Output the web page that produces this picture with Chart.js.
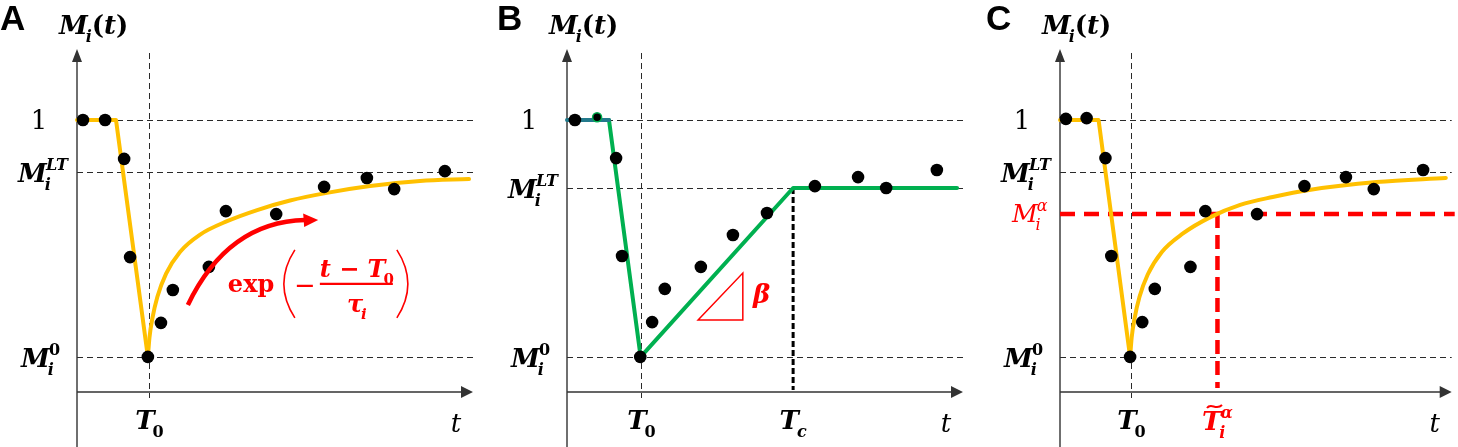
<!DOCTYPE html>
<html>
<head>
<meta charset="utf-8">
<script src="https://cdn.jsdelivr.net/npm/chart.js@4.4.1/dist/chart.umd.min.js"></script>
<style>
  body { margin: 0; background: #fff; width: 1458px; height: 447px; overflow: hidden; }
  canvas { position: absolute; top: 0; }
</style>
</head>
<body>
<canvas id="panel-a" width="490" height="447" style="left:0"></canvas>
<canvas id="panel-b" width="490" height="447" style="left:490px"></canvas>
<canvas id="panel-c" width="478" height="447" style="left:980px"></canvas>
<script>
// values: t in 0..100, M on a 0..1.25 axis (x axis at 0)

// panel A - exponential recovery
const obsA_t = [1.5, 7.1, 11.9, 13.4, 17.9, 21.2, 24.2, 33.3, 37.6, 50.3, 62.4, 73.2, 80.1, 92.9];
const obsA_m = [1.00, 1.00, 0.857, 0.496, 0.129, 0.254, 0.375, 0.46, 0.665, 0.654, 0.754, 0.787, 0.746, 0.812];
const dropA_t = [0, 9.85, 17.9];
const dropA_m = [1, 1, 0.129];
const riseA_t = [17.9, 18.3, 19.0, 20.3, 22.5, 26.0, 31.0, 37.9, 45.5, 53.8, 63.1, 74.0, 86.6, 99.0];
const riseA_m = [0.129, 0.200, 0.268, 0.350, 0.435, 0.515, 0.578, 0.628, 0.669, 0.704, 0.732, 0.757, 0.776, 0.783];
const refA = { T0: 18.2, mOne: 1, mLT: 0.809, m0: 0.129 };
const arrowA_t = [28.0, 38.1, 57.6, 60.9];   // start, control, end, tip
const arrowA_m = [0.320, 0.625, 0.632, 0.632];
const expLabelA = [38.6, 0.368];

// panel B - linear recovery
const obsB_t = [2.0, 7.6, 12.4, 13.9, 18.5, 21.5, 24.7, 33.8, 41.9, 50.5, 62.6, 73.5, 80.6, 93.4];
const obsB_m = [1.0, 1.01, 0.860, 0.500, 0.129, 0.257, 0.379, 0.460, 0.577, 0.658, 0.757, 0.790, 0.750, 0.816];
const flatB_t = [0, 10.6];
const flatB_m = [1, 1];
const fitB_t = [10.6, 18.6, 57.1, 98.5];
const fitB_m = [1, 0.129, 0.75, 0.75];
const refB = { T0: 18.7, Tc: 57.1, mOne: 1, mLT: 0.75, m0: 0.129 };
const slopeB_t = [33.1, 44.4, 44.4];
const slopeB_m = [0.265, 0.265, 0.4375];
const betaLabelB = [47.0, 0.327];

// panel C - alpha threshold
const obsC_t = [1.5, 6.8, 11.6, 13.1, 17.9, 21.0, 24.2, 33.3, 37.1, 50.3, 62.4, 73.0, 80.1, 92.7];
const obsC_m = [1.004, 1.007, 0.860, 0.500, 0.129, 0.257, 0.379, 0.460, 0.665, 0.654, 0.757, 0.790, 0.746, 0.816];
const dropC_t = [0, 9.85, 17.9];
const dropC_m = [1, 1, 0.129];
const riseC_t = [17.9, 18.3, 19.0, 20.3, 22.4, 26.0, 31.3, 38.4, 46.0, 54.3, 63.6, 80.8, 98.5];
const riseC_m = [0.129, 0.200, 0.268, 0.350, 0.432, 0.515, 0.582, 0.643, 0.688, 0.717, 0.743, 0.772, 0.787];
const refC = { T0: 18.2, mOne: 1, mLT: 0.809, m0: 0.129, mAlpha: 0.654, tAlpha: 40.2 };

const GOLD = '#FFC000', GREEN = '#00B050', TEAL = '#237A8C', RED = '#FF0000', AXIS = '#333', GRID = '#2a2a2a';

function pts(ts, ms) {
    return ts.map((t, i) => ({ x: t, y: ms[i] }));
}

function dots(ts, ms) {
    return { data: pts(ts, ms), showLine: false, pointRadius: 6.3, pointBackgroundColor: '#000', pointBorderWidth: 0, clip: false };
}

function line(ts, ms, color, smooth) {
    const ds = { data: pts(ts, ms), showLine: true, pointRadius: 0, borderColor: color, borderWidth: 4, tension: 0, clip: false, borderCapStyle: 'round', borderJoinStyle: 'round' };
    if (smooth) ds.cubicInterpolationMode = 'monotone';
    return ds;
}

// math style label: parts = [text, pos, font]; pos '' | 'sub' | 'sup' | 'sup2' (sup over previous sub)
function drawMath(ctx, x, y, parts, size, color, align) {
    const small = Math.round(size * 0.62);
    let w = 0, lastX = 0;
    const items = parts.map(([s, pos, f]) => {
        const fs = pos ? small : size;
        const font = (f || 'bold italic') + ' ' + fs + 'px "DejaVu Serif"';
        ctx.font = font;
        const mw = ctx.measureText(s).width;
        let ix;
        if (pos === 'sup2') { ix = lastX + size * 0.05; w = Math.max(w, ix + mw); }
        else if (pos === 'sub') { ix = w - size * 0.08; lastX = ix; w = ix + mw; }
        else { ix = w; lastX = w; w += mw; }
        const dy = pos === 'sub' ? size * 0.3 : (pos ? -size * 0.45 : 0);
        return { s, font, ix, dy };
    });
    const x0 = align === 'center' ? x - w / 2 : align === 'right' ? x - w : x;
    ctx.fillStyle = color;
    ctx.textAlign = 'left';
    ctx.textBaseline = 'alphabetic';
    items.forEach(it => { ctx.font = it.font; ctx.fillText(it.s, x0 + it.ix, y + it.dy); });
    return { x0, w };
}

function dashed(ctx, x1, y1, x2, y2, color, width, dash) {
    ctx.save();
    ctx.strokeStyle = color;
    ctx.lineWidth = width;
    ctx.setLineDash(dash);
    ctx.beginPath();
    ctx.moveTo(x1, y1);
    ctx.lineTo(x2, y2);
    ctx.stroke();
    ctx.restore();
}

function drawFrame(chart, cfg) {
    const { ctx, chartArea: a, scales: { x, y } } = chart;
    const left = a.left, base = y.getPixelForValue(0), right = a.right;
    ctx.save();
    // reference lines
    [cfg.ref.mOne, cfg.ref.mLT, cfg.ref.m0].forEach(v => {
        const py = Math.round(y.getPixelForValue(v)) + 0.5;
        dashed(ctx, left, py, right, py, GRID, 1, [6, 4]);
    });
    const tx = Math.round(x.getPixelForValue(cfg.ref.T0)) + 0.5;
    dashed(ctx, tx, 53, tx, base + 6, GRID, 1, [6, 4]);

    // axes with arrows
    ctx.strokeStyle = AXIS;
    ctx.fillStyle = AXIS;
    ctx.lineWidth = 1.4;
    ctx.beginPath();
    ctx.moveTo(left, 58);
    ctx.lineTo(left, 447);
    ctx.moveTo(left, base);
    ctx.lineTo(right - 9, base);
    ctx.stroke();
    ctx.beginPath();
    ctx.moveTo(left, 49); ctx.lineTo(left - 5, 62); ctx.lineTo(left + 5, 62); ctx.closePath();
    ctx.moveTo(right, base); ctx.lineTo(right - 12, base - 6); ctx.lineTo(right - 12, base + 6); ctx.closePath();
    ctx.fill();

    // texts
    ctx.font = 'bold 35px "Liberation Sans"';
    ctx.fillStyle = '#000';
    ctx.textAlign = 'left';
    ctx.textBaseline = 'alphabetic';
    ctx.fillText(cfg.letter, cfg.letterX, 30);

    drawMath(ctx, left - 18, 34, [['M'], ['i', 'sub'], ['(', '', 'bold'], ['t'], [')', '', 'bold']], 26, '#000', 'left');

    ctx.font = '26px "DejaVu Serif"';
    ctx.textAlign = 'center';
    ctx.fillText('1', left - 38, y.getPixelForValue(cfg.ref.mOne) + 9);
    drawMath(ctx, left - 59, y.getPixelForValue(cfg.ref.mLT) + 10, [['M'], ['i', 'sub'], ['LT', 'sup2']], 26, '#000', 'left');
    drawMath(ctx, left - 56, y.getPixelForValue(cfg.ref.m0) + 10, [['M'], ['i', 'sub'], ['0', 'sup2', 'bold']], 26, '#000', 'left');

    drawMath(ctx, tx, 429, [['T'], ['0', 'sub', 'bold']], 26, '#000', 'center');
    ctx.font = 'italic 26px "DejaVu Serif"';
    ctx.fillStyle = '#000';
    ctx.textAlign = 'center';
    ctx.fillText('t', right - 17, 432);
    ctx.restore();
}

function overlayA() {
    return {
        id: 'overlayA',
        beforeDatasetsDraw(chart) {
            drawFrame(chart, { letter: 'A', letterX: 0, ref: refA });
        },
        afterDatasetsDraw(chart) {
            const { ctx, scales: { x, y } } = chart;
            const p = arrowA_t.map((t, i) => [x.getPixelForValue(t), y.getPixelForValue(arrowA_m[i])]);
            ctx.save();
            ctx.strokeStyle = RED;
            ctx.fillStyle = RED;
            ctx.lineWidth = 4.5;
            ctx.beginPath();
            ctx.moveTo(p[0][0], p[0][1]);
            ctx.quadraticCurveTo(p[1][0], p[1][1], p[2][0], p[2][1]);
            ctx.stroke();
            ctx.beginPath();
            ctx.moveTo(p[3][0], p[3][1]);
            ctx.lineTo(p[3][0] - 15, p[3][1] - 6.5);
            ctx.lineTo(p[3][0] - 14, p[3][1] + 7);
            ctx.closePath();
            ctx.fill();

            // exp( -(t - T0)/tau_i )
            const ax = x.getPixelForValue(expLabelA[0]), ay = y.getPixelForValue(expLabelA[1]);
            ctx.font = 'bold 24px "DejaVu Serif"';
            ctx.textAlign = 'left';
            ctx.fillText('exp', ax - 2, ay);
            ctx.lineWidth = 1.6;
            ctx.beginPath();
            ctx.moveTo(ax + 65, ay - 42);
            ctx.quadraticCurveTo(ax + 43, ay - 8, ax + 65, ay + 26);
            ctx.moveTo(ax + 167, ay - 42);
            ctx.quadraticCurveTo(ax + 189, ay - 8, ax + 167, ay + 26);
            ctx.stroke();
            ctx.lineWidth = 2.4;
            ctx.beginPath();
            ctx.moveTo(ax + 67, ay - 6); ctx.lineTo(ax + 83, ay - 6);
            ctx.moveTo(ax + 90, ay - 8); ctx.lineTo(ax + 163, ay - 8);
            ctx.stroke();
            drawMath(ctx, ax + 127, ay - 15, [['t − T'], ['0', 'sub', 'bold']], 24, RED, 'center');
            drawMath(ctx, ax + 127, ay + 20, [['τ'], ['i', 'sub']], 24, RED, 'center');
            ctx.restore();
        }
    };
}

function overlayB() {
    return {
        id: 'overlayB',
        beforeDatasetsDraw(chart) {
            drawFrame(chart, { letter: 'B', letterX: 7, ref: refB });
            const { ctx, scales: { x, y } } = chart;
            const cx = x.getPixelForValue(refB.Tc);
            dashed(ctx, cx, y.getPixelForValue(refB.mLT), cx, y.getPixelForValue(0) - 2, '#000', 3, [6, 3]);
            drawMath(ctx, cx, 429, [['T'], ['c', 'sub']], 26, '#000', 'center');
        },
        afterDatasetsDraw(chart) {
            const { ctx, scales: { x, y } } = chart;
            ctx.save();
            ctx.strokeStyle = RED;
            ctx.lineWidth = 1.5;
            ctx.beginPath();
            slopeB_t.forEach((t, i) => {
                const px = x.getPixelForValue(t), py = y.getPixelForValue(slopeB_m[i]);
                if (i === 0) ctx.moveTo(px, py); else ctx.lineTo(px, py);
            });
            ctx.closePath();
            ctx.stroke();
            drawMath(ctx, x.getPixelForValue(betaLabelB[0]), y.getPixelForValue(betaLabelB[1]), [['β']], 26, RED, 'left');
            ctx.restore();
        }
    };
}

function overlayC() {
    return {
        id: 'overlayC',
        beforeDatasetsDraw(chart) {
            drawFrame(chart, { letter: 'C', letterX: 6, ref: refC });
            const { ctx, chartArea: a, scales: { x, y } } = chart;
            const ay = y.getPixelForValue(refC.mAlpha), ax = x.getPixelForValue(refC.tAlpha);
            dashed(ctx, a.left, ay, a.right + 3, ay, RED, 4.5, [15, 9]);
            dashed(ctx, ax, ay, ax, y.getPixelForValue(0) - 4, RED, 4.5, [14, 7]);
            drawMath(ctx, a.left - 48, ay + 8, [['M', '', 'italic'], ['i', 'sub', 'italic'], ['α', 'sup2', 'italic']], 25, RED, 'left');
            const lab = drawMath(ctx, ax, 430, [['T'], ['i', 'sub'], ['α', 'sup2']], 26, RED, 'center');
            ctx.save();
            ctx.strokeStyle = RED;
            ctx.lineWidth = 2;
            ctx.beginPath();
            const tx = lab.x0 + 5, ty = 406;
            ctx.moveTo(tx, ty + 2);
            ctx.bezierCurveTo(tx + 4, ty - 4, tx + 9, ty + 5, tx + 15, ty - 1);
            ctx.stroke();
            ctx.restore();
        }
    };
}

function makeChart(id, datasets, overlay, pad) {
    return new Chart(document.getElementById(id), {
        type: 'scatter',
        data: { datasets: datasets },
        options: {
            responsive: false,
            animation: false,
            devicePixelRatio: 1,
            events: [],
            layout: { padding: pad },
            plugins: { legend: { display: false }, tooltip: { enabled: false } },
            scales: {
                x: { type: 'linear', min: 0, max: 100, display: false },
                y: { type: 'linear', min: 0, max: 1.25, display: false }
            }
        },
        plugins: [overlay]
    });
}

makeChart('panel-a', [
    dots(obsA_t, obsA_m),
    line(dropA_t, dropA_m, GOLD, false),
    line(riseA_t, riseA_m, GOLD, true)
], overlayA(), { left: 77, right: 17, top: 52, bottom: 55 });

const dotsB = dots(obsB_t, obsB_m);
dotsB.pointRadius = c => c.dataIndex === 1 ? 4.5 : 6.3;
dotsB.pointBorderWidth = c => c.dataIndex === 1 ? 1.5 : 0;
dotsB.pointBorderColor = GREEN;

makeChart('panel-b', [
    dotsB,
    line(flatB_t, flatB_m, TEAL, false),
    line(fitB_t, fitB_m, GREEN, false)
], overlayB(), { left: 77, right: 17, top: 52, bottom: 55 });

makeChart('panel-c', [
    dots(obsC_t, obsC_m),
    line(dropC_t, dropC_m, GOLD, false),
    line(riseC_t, riseC_m, GOLD, true)
], overlayC(), { left: 80, right: 3, top: 52, bottom: 55 });
</script>
</body>
</html>
